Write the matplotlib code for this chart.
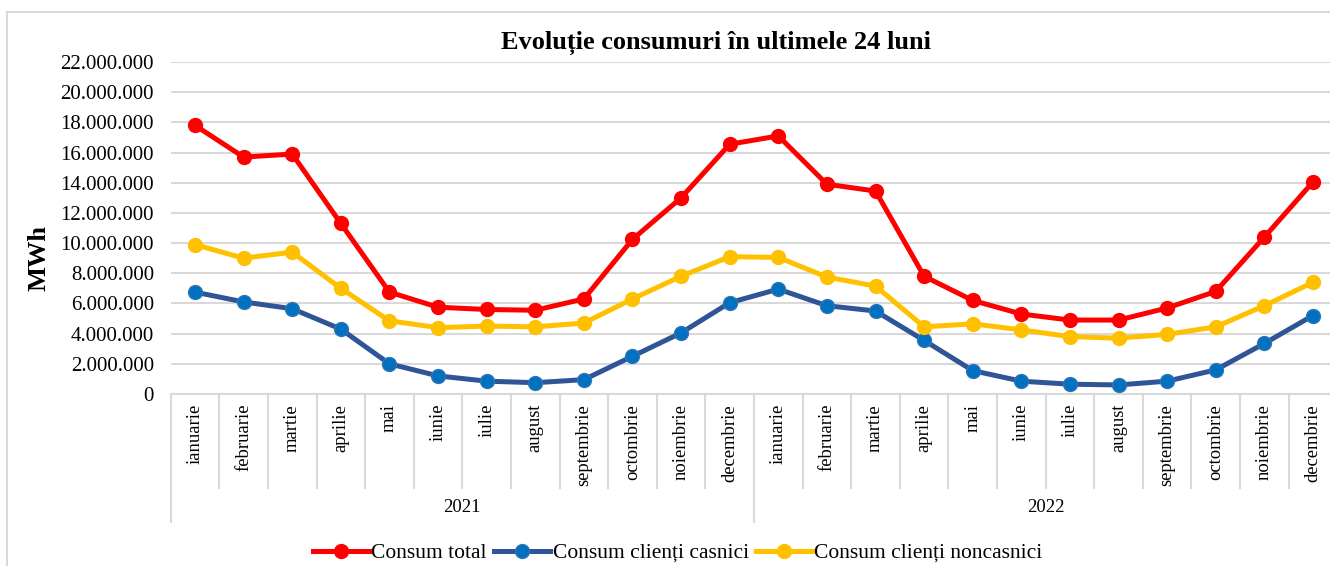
import matplotlib.pyplot as plt
import matplotlib.transforms as mtransforms
from matplotlib.ticker import FuncFormatter

plt.rcParams['font.family'] = ['Liberation Serif', 'DejaVu Serif']

months = ["ianuarie", "februarie", "martie", "aprilie", "mai", "iunie", "iulie",
          "august", "septembrie", "octombrie", "noiembrie", "decembrie"]
years = ["2021", "2022"]
labels = months * 2

# MWh
consum_total = [17800000, 15700000, 15900000, 11300000, 6750000, 5750000, 5600000, 5550000,
                6300000, 10250000, 13000000, 16550000, 17100000, 13900000, 13450000, 7800000,
                6200000, 5300000, 4900000, 4900000, 5700000, 6800000, 10400000, 14050000]
consum_casnici = [6750000, 6100000, 5650000, 4300000, 2000000, 1200000, 850000, 750000,
                  950000, 2500000, 4050000, 6050000, 6950000, 5850000, 5500000, 3550000,
                  1550000, 850000, 650000, 600000, 850000, 1600000, 3350000, 5200000]
consum_noncasnici = [9900000, 9000000, 9400000, 7000000, 4850000, 4400000, 4500000, 4450000,
                     4700000, 6300000, 7800000, 9100000, 9050000, 7750000, 7150000, 4450000,
                     4650000, 4250000, 3800000, 3700000, 3950000, 4450000, 5850000, 7400000]

grid_c = '#D9D9D9'

fig = plt.figure(figsize=(13.3, 5.66), dpi=100)
ax = fig.add_axes([170.7 / 1330, 1 - 394 / 566, 1166.6 / 1330, 332 / 566])

x = list(range(len(labels)))
ax.plot(x, consum_total, color='#FF0000', lw=3.6, marker='o', ms=10,
        mfc='#FF0000', mec='#FF0000', label='Consum total', zorder=3)
ax.plot(x, consum_casnici, color='#2F5597', lw=3.6, marker='o', ms=10,
        mfc='#0070C0', mec='#2E75B6', label='Consum clienți casnici', zorder=3)
ax.plot(x, consum_noncasnici, color='#FFC000', lw=3.6, marker='o', ms=10,
        mfc='#FFC000', mec='#FFC000', label='Consum clienți noncasnici', zorder=3)

ax.set_xlim(-0.5, 23.5)
ax.set_ylim(0, 22000000)
ax.set_yticks(range(0, 22000001, 2000000))
ax.yaxis.set_major_formatter(FuncFormatter(lambda v, p: f"{int(v):,}".replace(",", ".")))
ax.tick_params(axis='y', length=0, labelsize=15, pad=12)
ax.set_xticks([])
ax.grid(axis='y', color=grid_c, lw=1.5)
ax.set_axisbelow(True)
for s in ['top', 'right', 'left']:
    ax.spines[s].set_visible(False)
ax.spines['bottom'].set_color(grid_c)
ax.spines['bottom'].set_linewidth(1.5)

ax.set_ylabel('MWh', fontsize=19, fontweight='bold')
ax.yaxis.set_label_coords((51 - 170.7) / 1166.6, (394 - 258) / 332)

# category axis: months + years
trans = mtransforms.blended_transform_factory(ax.transData, ax.transAxes)
for i, m in enumerate(labels):
    ax.text(i, -0.03, m, rotation=90, ha='center', va='top', fontsize=13.4, transform=trans)
for k in range(len(labels) + 1):
    end = -0.386 if k % 12 == 0 else -0.283
    ax.plot([k - 0.5, k - 0.5], [0, end], color=grid_c, lw=1.5, transform=trans, clip_on=False)
for j, yr in enumerate(years):
    ax.text(j * 12 + 5.5, -0.343, yr, ha='center', va='center', fontsize=13.4, transform=trans)

fig.text(716 / 1330, 1 - 43 / 566, 'Evoluție consumuri în ultimele 24 luni',
         ha='center', va='center', fontsize=19, fontweight='bold')

fig.legend(loc='center', bbox_to_anchor=(678 / 1330, 1 - 553 / 566), ncol=3, frameon=False,
           fontsize=15.5, handlelength=2.6, handletextpad=0.1, columnspacing=0.35,
           borderpad=0)

fig.add_artist(plt.Rectangle((7 / 1330, -0.1), 1.1, (566 - 12) / 566 + 0.1,
                             transform=fig.transFigure, fill=False, ec=grid_c, lw=1.5))

fig.savefig('out.png', dpi=100, facecolor='white')
